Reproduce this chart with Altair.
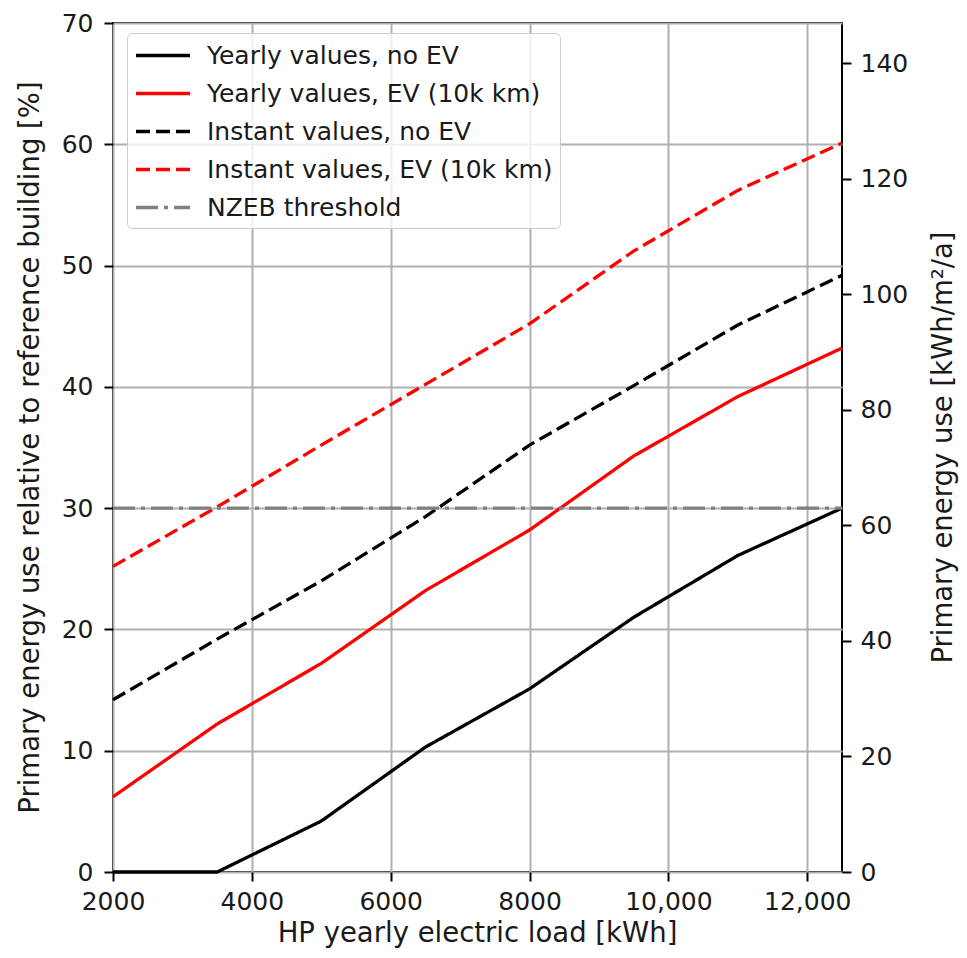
import altair as alt
import pandas as pd

# ---- data ----
hp_load = [2000, 3500, 5000, 6500, 8000, 9500, 11000, 12500]
yearly_no_ev = [0, 0, 4.2, 10.3, 15.1, 21.0, 26.1, 30.0]
yearly_ev = [6.2, 12.2, 17.2, 23.2, 28.2, 34.3, 39.2, 43.2]
instant_no_ev = [14.2, 19.2, 24.0, 29.3, 35.2, 40.1, 45.1, 49.2]
instant_ev = [25.2, 30.1, 35.2, 40.2, 45.2, 51.2, 56.2, 60.1]
nzeb_threshold = 30

series_names = [
    "Yearly values, no EV",
    "Yearly values, EV (10k km)",
    "Instant values, no EV",
    "Instant values, EV (10k km)",
    "NZEB threshold",
]
series_colors = ["#000000", "#ff0000", "#000000", "#ff0000", "#808080"]
series_dashes = [[1, 0], [1, 0], [14, 6], [14, 6], [22, 6, 4, 6]]

x_ticks = [2000, 4000, 6000, 8000, 10000, 12000]
left_ticks = [0, 10, 20, 30, 40, 50, 60, 70]
right_ticks = [0, 20, 40, 60, 80, 100, 120, 140]
left_max = 70
right_max = 147

rows = []
for i, vals in enumerate([yearly_no_ev, yearly_ev, instant_no_ev, instant_ev]):
    for x, y in zip(hp_load, vals):
        rows.append({"load": x, "pct": y, "series": series_names[i], "ord": i})
for x in [hp_load[0], hp_load[-1]]:
    rows.append({"load": x, "pct": nzeb_threshold, "series": series_names[4], "ord": 4})
df = pd.DataFrame(rows)

FONT = "DejaVu Sans"
TXT = "#1a1a1a"

legend = alt.Legend(
    title=None,
    orient="none",
    legendX=14,
    legendY=10,
    padding=7,
    symbolType="M-1,0H3",
    symbolSize=729,
    symbolStrokeWidth=3.3,
    symbolFillColor="transparent",
    labelOffset=42,
    rowPadding=9,
    labelFont=FONT,
    labelFontSize=25,
    labelColor=TXT,
    labelLimit=0,
    strokeColor="#cccccc",
    fillColor="rgba(255,255,255,0.8)",
    cornerRadius=5,
)

lines = alt.Chart(df).mark_line(strokeWidth=3.3, strokeCap="butt").encode(
    x=alt.X(
        "load:Q",
        scale=alt.Scale(domain=[2000, 12500], nice=False, zero=False),
        axis=alt.Axis(
            values=x_ticks,
            labelExpr="datum.value >= 10000 ? format(datum.value, ',') : format(datum.value, 'd')",
            title="HP yearly electric load [kWh]",
            titleX=364,
            titleY=69,
            titleBaseline="alphabetic",
            labelPadding=8,
        ),
    ),
    y=alt.Y(
        "pct:Q",
        scale=alt.Scale(domain=[0, left_max], nice=False),
        axis=alt.Axis(
            values=left_ticks,
            title="Primary energy use relative to reference building [%]",
            titleAngle=270,
            titleX=-83,
            titleY=424,
            titleBaseline="middle",
            titleAlign="center",
            labelPadding=11,
        ),
    ),
    color=alt.Color(
        "series:N",
        sort=series_names,
        scale=alt.Scale(domain=series_names, range=series_colors),
        legend=legend,
    ),
    strokeDash=alt.StrokeDash(
        "series:N",
        sort=series_names,
        scale=alt.Scale(domain=series_names, range=series_dashes),
        legend=legend,
    ),
    order=alt.Order("ord:Q"),
)

right_df = pd.DataFrame({"energy": right_ticks})
right = alt.Chart(right_df).mark_point(opacity=0).encode(
    y=alt.Y(
        "energy:Q",
        scale=alt.Scale(domain=[0, right_max], nice=False),
        axis=alt.Axis(
            orient="right",
            values=right_ticks,
            grid=False,
            title="Primary energy use [kWh/m²/a]",
            titleAngle=270,
            titleX=101,
            titleY=424,
            titleBaseline="middle",
            titleAlign="center",
            labelPadding=9,
        ),
    )
)

chart = (
    alt.layer(lines, right)
    .resolve_scale(y="independent")
    .properties(
        width=729,
        height=849,
        autosize=alt.AutoSizeParams(type="none"),
        padding={"left": 105, "top": 15, "right": 117, "bottom": 76},
        background="white",
    )
    .configure_view(stroke="black", strokeWidth=2)
    .configure_axis(
        domain=False,
        grid=True,
        gridColor="#b0b0b0",
        gridWidth=2,
        tickColor="black",
        tickWidth=2,
        tickSize=9,
        labelFont=FONT,
        labelFontSize=25,
        labelColor=TXT,
        labelFlush=False,
        labelOverlap=False,
        titleFont=FONT,
        titleFontSize=27.5,
        titleFontWeight="normal",
        titleColor=TXT,
    )
)

chart.save("out.html", embed_options={"renderer": "svg", "actions": False})
